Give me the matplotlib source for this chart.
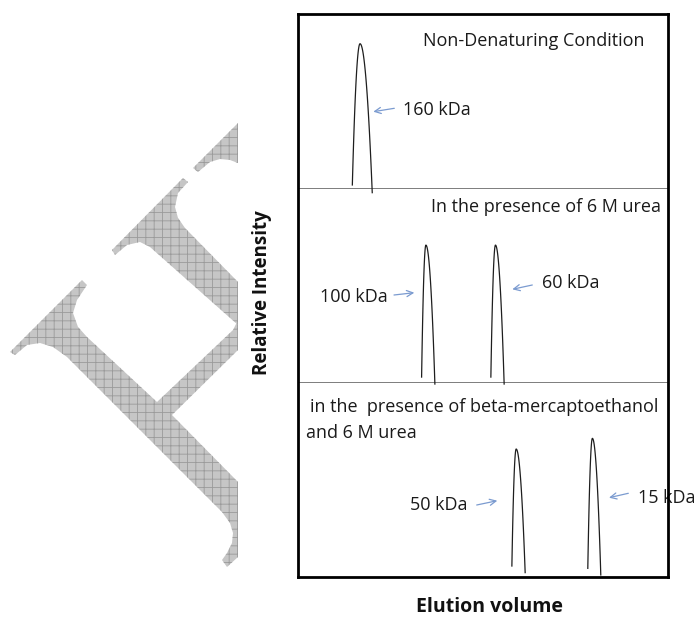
import numpy as np
import matplotlib
matplotlib.use("Agg")
import matplotlib.pyplot as plt
from matplotlib.patches import Polygon

plt.rcParams['font.family'] = ['Open Sans', 'DejaVu Sans']
plt.rcParams['hatch.linewidth'] = 0.6

# ---- data ----
# elution position of each peak (0-100 across the box), height as fraction of panel
panel_titles = ["Non-Denaturing Condition",
                "In the presence of 6 M urea",
                "in the  presence of beta-mercaptoethanol\nand 6 M urea"]
peak_panel = [0, 1, 1, 2, 2]
peak_center = [16.9, 34.7, 53.5, 59.1, 79.7]
peak_height = [0.83, 0.71, 0.71, 0.657, 0.712]
# where the hand-drawn legs stop: offset from centre and height
foot_left_dx = [2.08, 1.16, 1.24, 1.16, 1.24]
foot_left_y = [0.023, 0.028, 0.028, 0.054, 0.042]
foot_right_dx = [3.3, 2.43, 2.35, 2.43, 2.27]
foot_right_y = [-0.021, -0.008, -0.008, 0.02, 0.008]
peak_labels = ["160 kDa", "100 kDa", "60 kDa", "50 kDa", "15 kDa"]

W, H = 695, 618
fig = plt.figure(figsize=(W / 100, H / 100), dpi=100)


def px_rect(x0, y0, x1, y1):
    return [x0 / W, 1 - y1 / H, (x1 - x0) / W, (y1 - y0) / H]


# background layer in pixel coordinates (watermark, texts, arrows)
bg = fig.add_axes([0, 0, 1, 1], zorder=0)
bg.set_xlim(0, W)
bg.set_ylim(H, 0)
bg.axis('off')

# faint hatched watermark in the background
wm_shapes = [
    [(10, 352), (82, 280), (87, 285), (77, 300), (73, 313), (78, 327), (87, 337),
     (157, 402), (233, 330), (238, 320), (238, 350), (172, 415), (238, 482),
     (238, 557), (227, 567), (222, 560), (227, 553), (232, 543), (233, 533),
     (230, 523), (222, 512), (67, 357), (53, 347), (40, 343), (27, 345), (15, 355)],
    [(112, 250), (183, 178), (188, 182), (178, 193), (175, 207), (178, 218),
     (185, 228), (238, 282), (238, 325), (150, 247), (140, 242), (127, 245),
     (115, 255)],
    [(193, 168), (238, 123), (238, 163), (230, 160), (220, 159), (210, 162),
     (198, 172)],
]
for pts in wm_shapes:
    bg.add_patch(Polygon(pts, closed=True, facecolor='#c6c6c6',
                         edgecolor='#9a9a9a', hatch='++', lw=0))

box = (297.5, 14, 667.5, 576.5)
dividers = [189, 382.5]
panel_edges = [box[1]] + dividers + [box[3]]

axes = []
for i in range(3):
    ax = fig.add_axes(px_rect(box[0], panel_edges[i], box[2], panel_edges[i + 1]), zorder=1)
    ax.set_xlim(0, 100)
    ax.set_ylim(0, 1)
    ax.axis('off')
    ax.patch.set_visible(False)
    if i < 2:
        ax.axhline(0, color='#5a5a5a', lw=1.1)
    axes.append(ax)

# peaks: parabolic legs from apex down to the drawn feet
t = np.linspace(0, 1, 60)
for k in range(len(peak_center)):
    ax = axes[peak_panel[k]]
    c, h = peak_center[k], peak_height[k]
    xl = c - foot_left_dx[k] * t[::-1]
    yl = h - (h - foot_left_y[k]) * t[::-1] ** 2
    xr = c + foot_right_dx[k] * t[1:]
    yr = h - (h - foot_right_y[k]) * t[1:] ** 2
    ax.plot(np.r_[xl, xr], np.r_[yl, yr], color='#1e1e1e', lw=0.9, clip_on=False)

# outer frame on top
frame = fig.add_axes(px_rect(*box), zorder=5)
frame.patch.set_visible(False)
frame.set_xticks([])
frame.set_yticks([])
for s in frame.spines.values():
    s.set_linewidth(2.0)
    s.set_color('black')

# titles inside panels
fs = 13
bg.text(423, 46, panel_titles[0], fontsize=fs, color='#1a1a1a', va='baseline')
bg.text(430.7, 212, panel_titles[1], fontsize=fs, color='#1a1a1a', va='baseline')
lines3 = panel_titles[2].split("\n")
bg.text(310, 412.3, lines3[0], fontsize=fs, color='#1a1a1a', va='baseline')
bg.text(305.7, 438.3, lines3[1], fontsize=fs, color='#1a1a1a', va='baseline')

# peak labels with arrows
label_pos = [(402.7, 115), (320, 301.7), (541.7, 288), (410, 510), (638.3, 502.7)]
arrow_tail = [(394.3, 108.3), (394, 295), (532.3, 285), (476.7, 505), (628.3, 493.3)]
arrow_head = [(373.3, 111.7), (414.3, 292.7), (512.3, 289.3), (497.3, 500.7), (609, 497.7)]
for lab, p, tl, hd in zip(peak_labels, label_pos, arrow_tail, arrow_head):
    bg.text(p[0], p[1], lab, fontsize=fs, color='#1a1a1a', va='baseline')
    bg.annotate('', xy=hd, xytext=tl,
                arrowprops=dict(arrowstyle='->,head_length=0.45,head_width=0.22',
                                color='#7b9bd0', lw=0.9, shrinkA=0, shrinkB=0))

bg.text(261.7, 293, "Relative Intensity", fontsize=13.5, fontweight='bold',
        rotation=90, ha='center', va='center', color='#111111')
bg.text(489.7, 617, "Elution volume", fontsize=14, fontweight='bold',
        ha='center', va='bottom', color='#111111')

plt.savefig('out.png', dpi=100)
plt.close()
